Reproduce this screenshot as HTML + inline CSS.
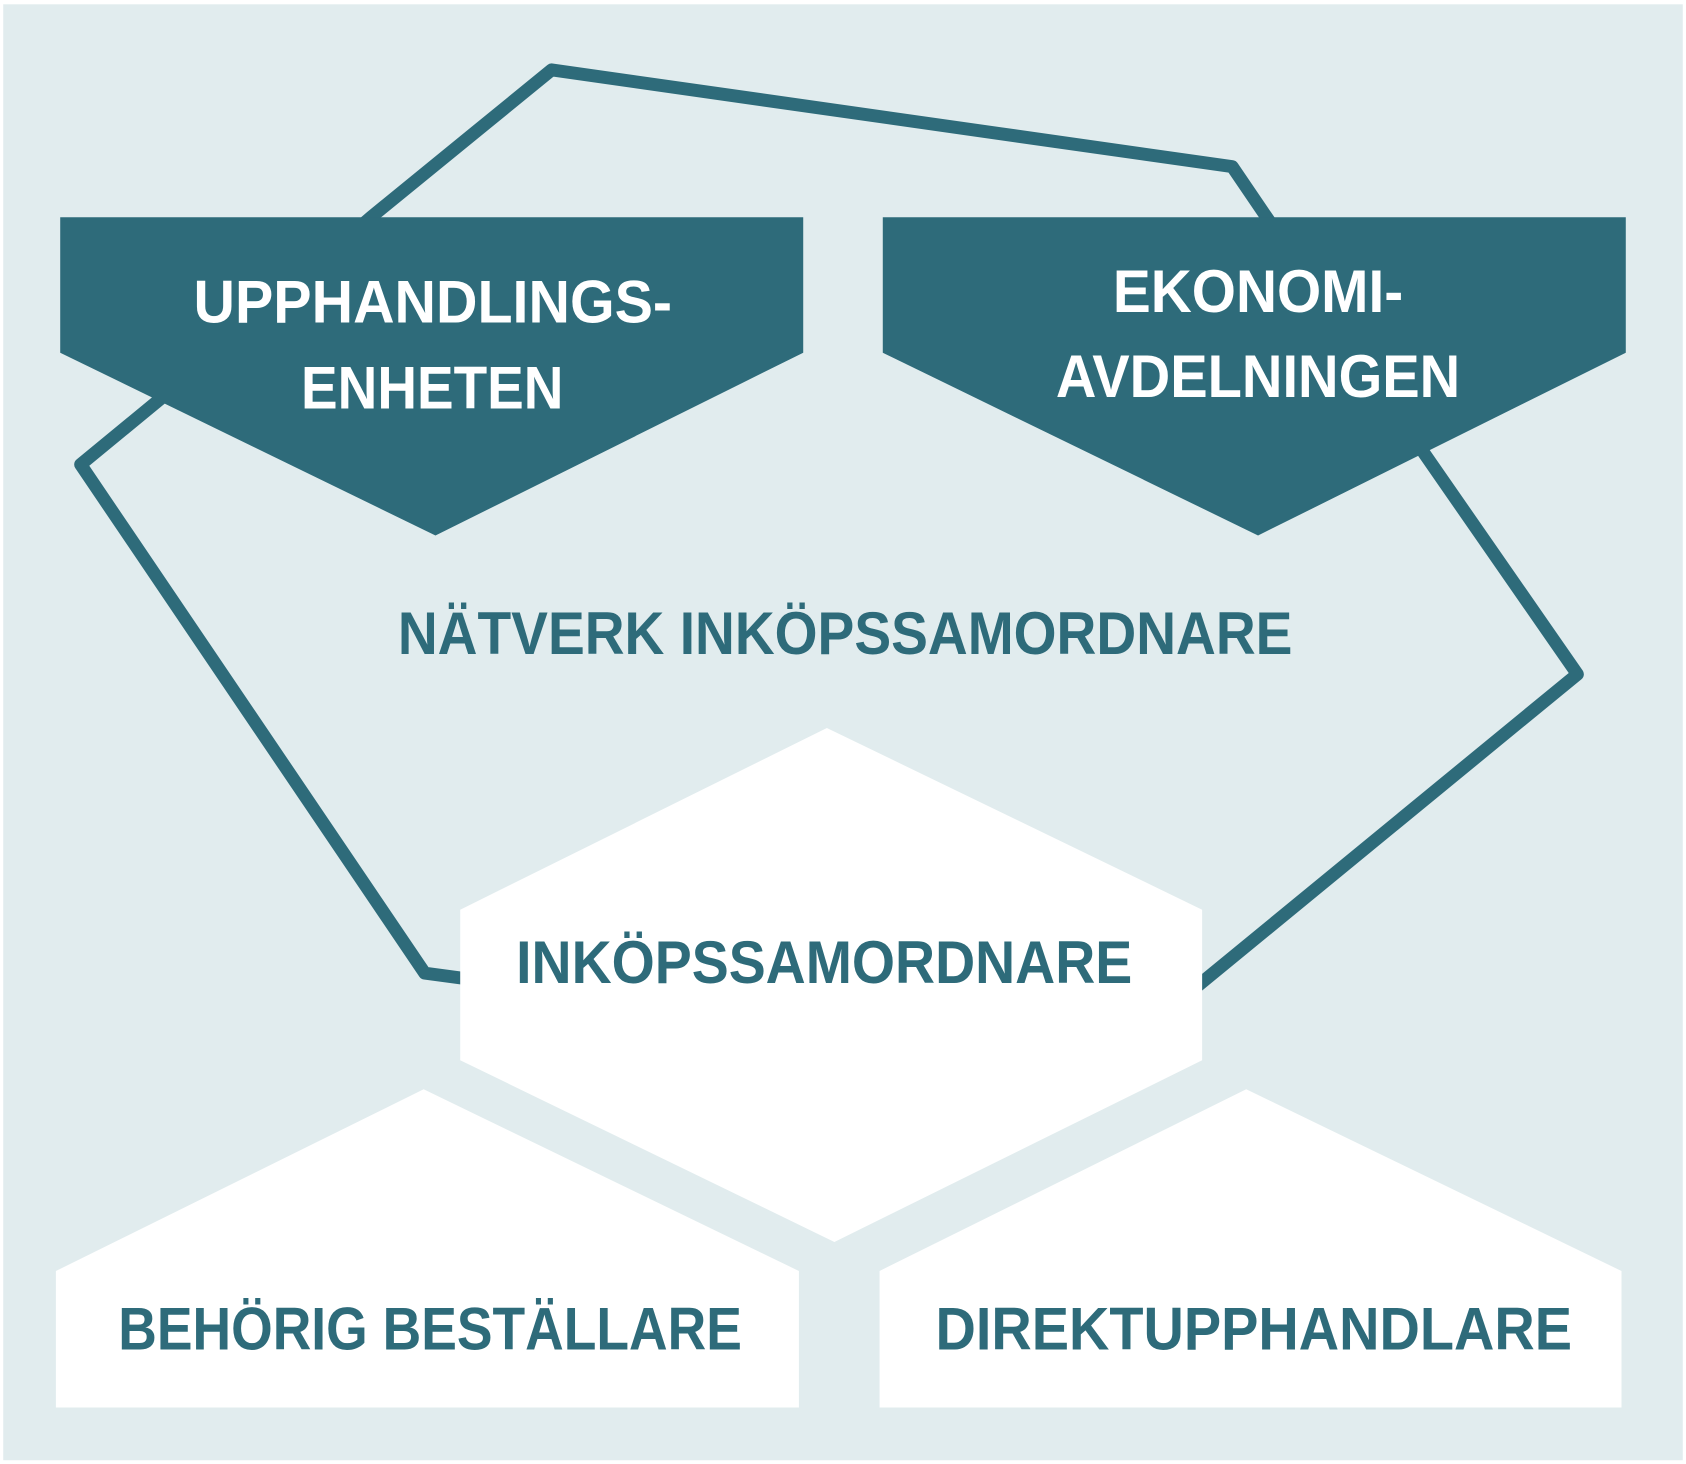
<!DOCTYPE html>
<html><head><meta charset="utf-8"><style>
html,body{margin:0;padding:0;background:#fff;}
svg{display:block;}
text{font-family:"Liberation Sans",sans-serif;font-weight:bold;}
</style></head><body>
<svg width="1686" height="1464" viewBox="0 0 1568 1361.5" preserveAspectRatio="none" xmlns="http://www.w3.org/2000/svg">
<rect x="0" y="0" width="1568" height="1362" fill="#ffffff"/>
<rect x="3" y="4" width="1562" height="1354" fill="#e1ecee"/>
<polyline points="440,911 395,905 75,432 160,362 345,202 513,65 1146,155 1180,205 1322,418 1467,627 1110,920" fill="none" stroke="#2e6b7a" stroke-width="12" stroke-linejoin="round" stroke-linecap="round"/>
<polygon points="56,202 747,202 747,328 405,498 56,328" fill="#2e6b7a"/>
<polygon points="821,202 1512,202 1512,328 1170,498 821,328" fill="#2e6b7a"/>
<polygon points="769,677 1118,846 1118,986 776,1155 428,986 428,846" fill="#ffffff"/>
<polygon points="394,1013 743,1182 743,1309 52,1309 52,1182" fill="#ffffff"/>
<polygon points="1159,1013 1508,1182 1508,1309 818,1309 818,1182" fill="#ffffff"/>
<g font-size="56" fill="#ffffff">
<text x="180" y="300" textLength="445" lengthAdjust="spacingAndGlyphs">UPPHANDLINGS-</text>
<text x="280" y="380" textLength="244" lengthAdjust="spacingAndGlyphs">ENHETEN</text>
<text x="1035" y="290" textLength="270" lengthAdjust="spacingAndGlyphs">EKONOMI-</text>
<text x="982" y="369" textLength="376" lengthAdjust="spacingAndGlyphs">AVDELNINGEN</text>
</g>
<g font-size="56" fill="#2e6b7a">
<text x="370" y="608" textLength="832" lengthAdjust="spacingAndGlyphs">NÄTVERK INKÖPSSAMORDNARE</text>
<text x="480" y="914" textLength="573" lengthAdjust="spacingAndGlyphs">INKÖPSSAMORDNARE</text>
<text x="110" y="1255" textLength="580" lengthAdjust="spacingAndGlyphs">BEHÖRIG BESTÄLLARE</text>
<text x="870" y="1255" textLength="592" lengthAdjust="spacingAndGlyphs">DIREKTUPPHANDLARE</text>
</g>
</svg>
</body></html>
